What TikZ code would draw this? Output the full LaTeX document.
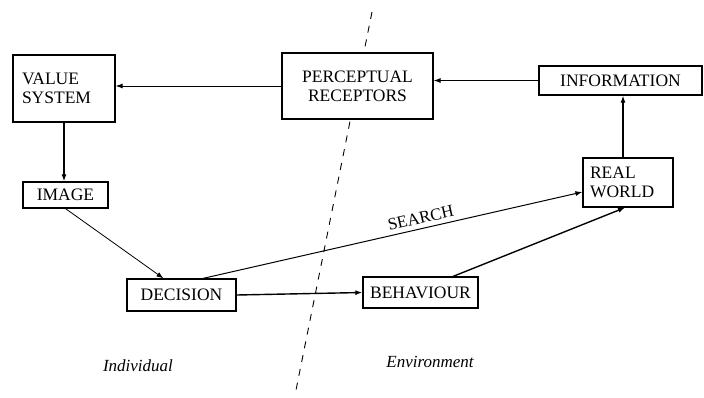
\documentclass[tikz,border=0pt]{standalone}
\usepackage{fontspec}
\setmainfont{Liberation Serif}
\usetikzlibrary{arrows.meta}
\begin{document}
\begin{tikzpicture}[x=1pt,y=-1pt,
  box/.style={draw,line width=1.2pt,fill=white,inner sep=0pt,font=\fontsize{17.5}{19}\selectfont},
  conn/.style={line width=1pt,-{Latex[length=7pt,width=5pt]}},
  lbl/.style={font=\fontsize{17}{19}\selectfont\itshape}]
\useasboundingbox (0,0) rectangle (704,397);
\coordinate (dtop) at (372,12);
\coordinate (dbot) at (295,395);
\draw[line width=0.9pt,dash pattern=on 7pt off 7pt] (dtop) -- (dbot);
\node[box,minimum width=102pt,minimum height=67pt,text width=84pt,inner xsep=9pt,align=left] (VS) at (64,88.5) {VALUE\\SYSTEM};
\node[box,minimum width=151pt,minimum height=66pt,align=center] (PR) at (357.5,86) {PERCEPTUAL\\RECEPTORS};
\node[box,minimum width=163pt,minimum height=29pt] (INFO) at (620.5,80.5) {INFORMATION};
\node[box,minimum width=90pt,minimum height=49pt,text width=76pt,inner xsep=7pt,align=left] (RW) at (628,182.5) {REAL\\WORLD};
\node[box,minimum width=85pt,minimum height=26pt] (IMG) at (65.5,195) {IMAGE};
\node[box,minimum width=109pt,minimum height=32pt] (DEC) at (181.5,295) {DECISION};
\node[box,minimum width=115pt,minimum height=31pt] (BEH) at (420.5,292.5) {BEHAVIOUR};
\draw[conn] (PR.west) -- (VS.east |- PR.west);
\draw[conn] (INFO.west) -- (PR.east |- INFO.west);
\draw[conn,line width=1.2pt] ([xshift=-5pt]RW.north) -- ([xshift=-5pt]INFO.south -| RW.north);
\draw[conn,line width=1.8pt] (VS.south) -- (IMG.north -| VS.south);
\draw[conn,line width=0.8pt] (IMG.south) -- ([xshift=-18pt]DEC.north);
\draw[conn] ([xshift=21.5pt]DEC.north) -- ([yshift=-9.5pt]RW.west)
  node[pos=0.58,sloped,above=1pt,font=\fontsize{17}{19}\selectfont] (SR) {SEARCH};
\draw[conn,line width=1.4pt] (DEC.east) -- (BEH.west);
\draw[conn,line width=1.4pt] ([xshift=32.5pt]BEH.north) -- ([xshift=-3pt]RW.south);
\node[lbl] (IND) at (138,366) {Individual};
\node[lbl] (ENV) at (430,362) {Environment};
\end{tikzpicture}
\end{document}
